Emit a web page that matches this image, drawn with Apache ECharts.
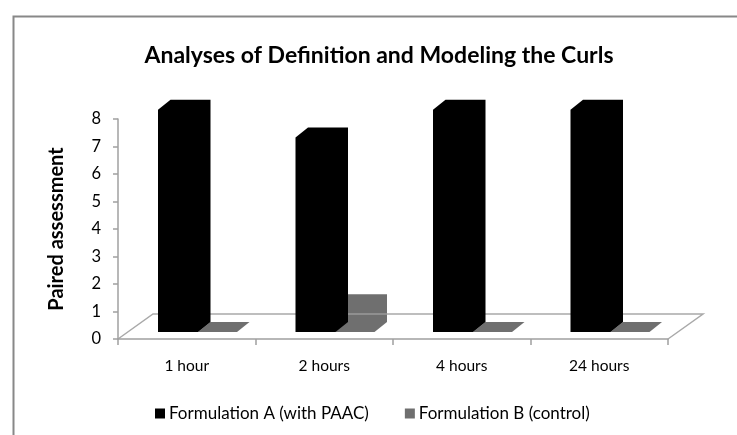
<!DOCTYPE html>
<html>
<head>
<meta charset="utf-8">
<script src="https://cdn.jsdelivr.net/npm/echarts@6/dist/echarts.min.js"></script>
<style>html,body{margin:0;padding:0;background:#fff;}#c{width:737px;height:435px;}</style>
</head>
<body>
<div id="c"></div>
<script>
const categories = ['1 hour', '2 hours', '4 hours', '24 hours'];
const seriesAName = 'Formulation A (with PAAC)';
const seriesBName = 'Formulation B (control)';
const seriesA = [8, 7, 8, 8];
const seriesB = [0, 1, 0, 0];
const yTicks = [0, 1, 2, 3, 4, 5, 6, 7, 8];

const FONT = 'Lato';
const AXIS_COLOR = '#a0a0a0';

function makeBarRender(startFrac, widthFrac) {
  return function (params, api) {
    const i = api.value(0), v = api.value(1);
    const band = api.size([1, 0])[0];
    const c0 = api.coord([i, 0]);
    const c1 = api.coord([i, v]);
    const bandStart = c0[0] - band / 2;
    const L = bandStart + band * startFrac;
    const R = L + band * widthFrac;
    const dx = 12.5, dy = -10, lift = 7;
    const base = c0[1] - lift;
    const top = c1[1] - lift - (c0[1] - c1[1]) * 0.01;
    return {
      type: 'polygon',
      shape: { points: [[L, base], [L, top], [L + dx, top + dy], [R + dx, top + dy], [R + dx, base + dy], [R, base]] },
      style: { fill: api.visual('color'), stroke: null }
    };
  };
}

function floorRender(params, api) {
  const cs = params.coordSys;
  const x0 = cs.x, x1 = cs.x + cs.width, y0 = cs.y + cs.height;
  const ddx = 35, ddy = -25;
  return {
    type: 'polyline',
    shape: { points: [[x0, y0], [x0 + ddx, y0 + ddy], [x1 + ddx, y0 + ddy], [x1, y0]] },
    style: { stroke: AXIS_COLOR, lineWidth: 1.5, fill: null, opacity: 0.9 }
  };
}

const chart = echarts.init(document.getElementById('c'), null, { renderer: 'canvas' });
chart.setOption({
  animation: false,
  backgroundColor: '#ffffff',
  textStyle: { fontFamily: FONT },
  title: {
    text: 'Analyses of Definition and Modeling the Curls',
    left: 374, top: 39, textAlign: 'center',
    textStyle: { fontFamily: FONT, fontWeight: 'bold', fontSize: 23, color: '#000' }
  },
  graphic: [{
    type: 'rect', left: 11, top: 14, z: -10, silent: true,
    shape: { x: 0, y: 0, width: 800, height: 500 },
    style: { fill: null, stroke: '#888', lineWidth: 2 }
  }],
  legend: {
    data: [seriesAName, seriesBName],
    left: 150, top: 400,
    icon: 'rect', itemWidth: 10, itemHeight: 10, itemGap: 36,
    textStyle: { fontFamily: FONT, fontSize: 17, color: '#000', padding: [0, 0, 0, -1] }
  },
  grid: { left: 118, right: 69, top: 119, bottom: 96, containLabel: false },
  xAxis: {
    type: 'category', data: categories, boundaryGap: true,
    axisLine: { lineStyle: { color: AXIS_COLOR, width: 1.5 } },
    axisTick: { show: true, length: 6, lineStyle: { color: AXIS_COLOR, width: 1.5 } },
    axisLabel: { margin: 19, fontFamily: FONT, fontSize: 15.5, color: '#000' },
    splitLine: { show: false }
  },
  yAxis: {
    type: 'value', min: yTicks[0], max: yTicks[yTicks.length - 1], interval: 1,
    name: 'Paired assessment', nameLocation: 'middle', nameGap: 51,
    nameTextStyle: { fontFamily: FONT, fontWeight: 'bold', fontSize: 20, color: '#000' },
    axisLine: { show: true, lineStyle: { color: AXIS_COLOR, width: 1.5 } },
    axisTick: { show: true, length: 5, lineStyle: { color: AXIS_COLOR, width: 1.5 } },
    axisLabel: { margin: 17, fontFamily: FONT, fontSize: 16.5, color: '#000' },
    splitLine: { show: false }
  },
  series: [
    {
      name: seriesBName, type: 'custom', z: 2,
      itemStyle: { color: '#6f6f6f' },
      renderItem: makeBarRender(80 / 137.5, 39 / 137.5),
      data: categories.map((c, i) => [i, seriesB[i]])
    },
    {
      name: 'floor', type: 'custom', z: 3, silent: true,
      renderItem: floorRender,
      data: [[0, 0]]
    },
    {
      name: seriesAName, type: 'custom', z: 4,
      itemStyle: { color: '#000000' },
      renderItem: makeBarRender(40 / 137.5, 40 / 137.5),
      data: categories.map((c, i) => [i, seriesA[i]])
    }
  ]
});
</script>
</body>
</html>
